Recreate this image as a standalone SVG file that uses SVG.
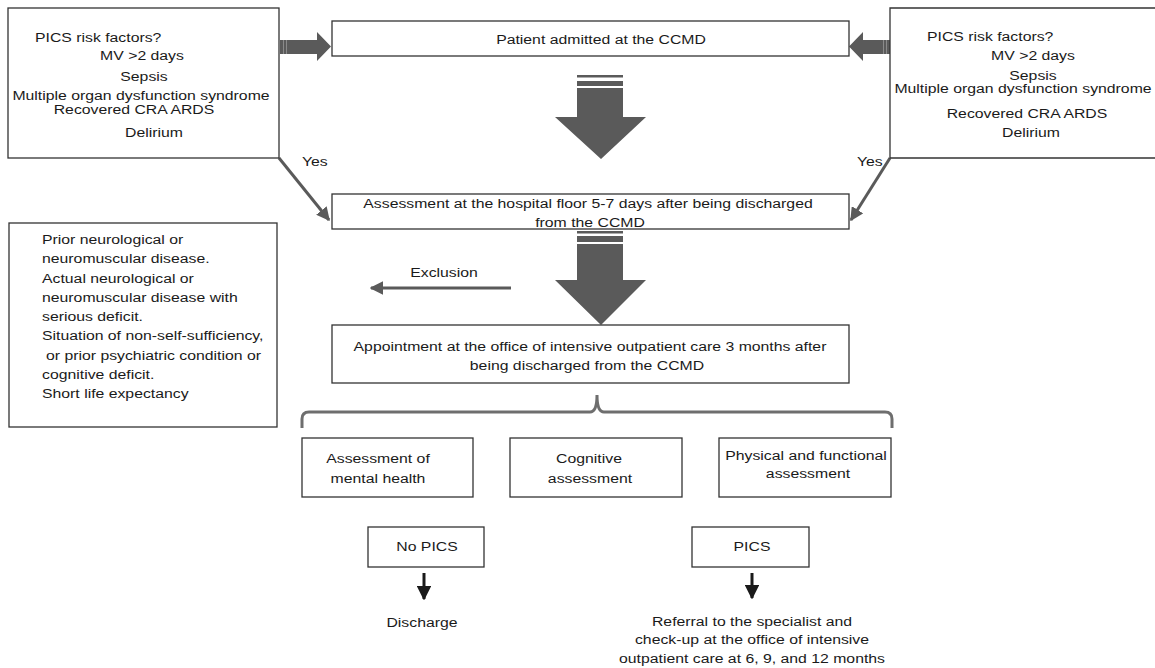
<svg xmlns="http://www.w3.org/2000/svg" width="1155" height="668" viewBox="0 0 1155 668">
<style>
.box{fill:#fff;stroke:#333;stroke-width:1.3}
.t{font-family:"Liberation Sans",Arial,sans-serif;font-size:13.5px;fill:#1a1a1a}
.m{text-anchor:middle}
.big{fill:#5a5a5a}
.thin{stroke:#5a5a5a;stroke-width:3;fill:none}
.blk{stroke:#1a1a1a;stroke-width:3;fill:none}
.stripe{fill:#8a8a8a}
</style>
<defs>
<marker id="gh" viewBox="0 0 10 10" refX="9" refY="5" markerWidth="4.5" markerHeight="4.5" orient="auto" markerUnits="strokeWidth">
<path d="M0,0 L10,5 L0,10 Z" fill="#5a5a5a"/>
</marker>
<marker id="bh" viewBox="0 0 10 10" refX="9" refY="5" markerWidth="4.8" markerHeight="4.8" orient="auto" markerUnits="strokeWidth">
<path d="M0,0 L10,5 L0,10 Z" fill="#1a1a1a"/>
</marker>
</defs>
<rect width="1155" height="668" fill="#fff"/>

<g id="connectors">
<!-- thick side arrows -->
<path class="big" d="M280,40 H317 V32 L331,46.5 L317,61 V54 H280 Z"/>
<rect class="stripe" x="283" y="40" width="1" height="14"/>
<rect class="stripe" x="286" y="40" width="1" height="14"/>
<path class="big" d="M890,40 H863 V32 L849,46.5 L863,61 V54 H890 Z"/>
<rect class="stripe" x="886" y="40" width="1" height="14"/>
<rect class="stripe" x="883" y="40" width="1" height="14"/>
<!-- big down arrow 1 -->
<rect class="big" x="577" y="75" width="46" height="2.5"/>
<rect class="big" x="577" y="81" width="46" height="5"/>
<path class="big" d="M577,88 H623 V117 H646 L601,159 L555,117 H577 Z"/>
<!-- big down arrow 2 -->
<rect class="big" x="577" y="231" width="46" height="2.5"/>
<rect class="big" x="577" y="236" width="46" height="6"/>
<path class="big" d="M577,244 H623 V280 H646 L601,325 L555,280 H577 Z"/>
<!-- yes diagonals -->
<line class="thin" x1="279" y1="158" x2="329" y2="220" marker-end="url(#gh)"/>
<line class="thin" x1="890" y1="158" x2="851" y2="220" marker-end="url(#gh)"/>
<!-- exclusion arrow -->
<line class="thin" x1="511" y1="288" x2="371" y2="288" marker-end="url(#gh)"/>
<!-- brace -->
<path d="M302,428 V419 Q302,412 309,412 H590 Q597,412 597,395 Q597,412 604,412 H885 Q892,412 892,419 V428" fill="none" stroke="#6e6e6e" stroke-width="3"/>
<!-- black arrows -->
<line class="blk" x1="424" y1="573" x2="424" y2="599" marker-end="url(#bh)"/>
<line class="blk" x1="752" y1="573" x2="752" y2="598" marker-end="url(#bh)"/>
</g>

<g id="risk-left">
<rect class="box" x="8" y="8" width="271" height="150"/>
<text class="t" transform="translate(35,42) scale(1.17,1)">PICS risk factors?</text>
<text class="t m" transform="translate(142,60) scale(1.17,1)">MV &gt;2 days</text>
<text class="t m" transform="translate(144,81) scale(1.17,1)">Sepsis</text>
<text class="t m" transform="translate(141,100) scale(1.17,1)">Multiple organ dysfunction syndrome</text>
<text class="t m" transform="translate(134,114) scale(1.17,1)">Recovered CRA ARDS</text>
<text class="t m" transform="translate(154,137) scale(1.17,1)">Delirium</text>
</g>

<g id="risk-right">
<path class="box" d="M1157,8 H890 V158 H1157"/>
<text class="t" transform="translate(927,41) scale(1.17,1)">PICS risk factors?</text>
<text class="t m" transform="translate(1033,60) scale(1.17,1)">MV &gt;2 days</text>
<text class="t m" transform="translate(1033,80) scale(1.17,1)">Sepsis</text>
<text class="t m" transform="translate(1023,93) scale(1.17,1)">Multiple organ dysfunction syndrome</text>
<text class="t m" transform="translate(1027,118) scale(1.17,1)">Recovered CRA ARDS</text>
<text class="t m" transform="translate(1031,137) scale(1.17,1)">Delirium</text>
</g>

<g id="yes-labels">
<text class="t" transform="translate(302,166) scale(1.17,1)">Yes</text>
<text class="t" transform="translate(857,166) scale(1.17,1)">Yes</text>
<text class="t m" transform="translate(444,277) scale(1.17,1)">Exclusion</text>
</g>

<g id="admitted">
<rect class="box" x="332" y="21" width="517" height="35"/>
<text class="t m" transform="translate(601,44) scale(1.17,1)">Patient admitted at the CCMD</text>
</g>

<g id="assessment-floor">
<rect class="box" x="332" y="194" width="517" height="35"/>
<text class="t m" transform="translate(588,208) scale(1.17,1)">Assessment at the hospital floor 5-7 days after being discharged</text>
<text class="t m" transform="translate(590,227) scale(1.17,1)">from the CCMD</text>
</g>

<g id="exclusion-criteria">
<rect class="box" x="9" y="223" width="268" height="204"/>
<text class="t" transform="translate(42,244) scale(1.17,1)">Prior neurological or</text>
<text class="t" transform="translate(42,263.3) scale(1.17,1)">neuromuscular disease.</text>
<text class="t" transform="translate(42,282.5) scale(1.17,1)">Actual neurological or</text>
<text class="t" transform="translate(42,301.8) scale(1.17,1)">neuromuscular disease with</text>
<text class="t" transform="translate(42,321) scale(1.17,1)">serious deficit.</text>
<text class="t" transform="translate(42,340.3) scale(1.17,1)">Situation of non-self-sufficiency,</text>
<text class="t" transform="translate(46,359.5) scale(1.17,1)">or prior psychiatric condition or</text>
<text class="t" transform="translate(42,378.8) scale(1.17,1)">cognitive deficit.</text>
<text class="t" transform="translate(42,398) scale(1.17,1)">Short life expectancy</text>
</g>

<g id="appointment">
<rect class="box" x="332" y="325" width="517" height="58"/>
<text class="t m" transform="translate(590,351) scale(1.17,1)">Appointment at the office of intensive outpatient care 3 months after</text>
<text class="t m" transform="translate(587,370) scale(1.17,1)">being discharged from the CCMD</text>
</g>

<g id="mental">
<rect class="box" x="302" y="438" width="171" height="59"/>
<text class="t m" transform="translate(378,463) scale(1.17,1)">Assessment of</text>
<text class="t m" transform="translate(378,483) scale(1.17,1)">mental health</text>
</g>

<g id="cognitive">
<rect class="box" x="510" y="438" width="172" height="59"/>
<text class="t m" transform="translate(589,463) scale(1.17,1)">Cognitive</text>
<text class="t m" transform="translate(590,483) scale(1.17,1)">assessment</text>
</g>

<g id="physical">
<rect class="box" x="719" y="438" width="172" height="59"/>
<text class="t m" transform="translate(806,460) scale(1.17,1)">Physical and functional</text>
<text class="t m" transform="translate(808,478) scale(1.17,1)">assessment</text>
</g>

<g id="no-pics">
<rect class="box" x="368" y="527" width="116" height="40"/>
<text class="t m" transform="translate(427,551) scale(1.17,1)">No PICS</text>
</g>

<g id="pics">
<rect class="box" x="692" y="527" width="117" height="40"/>
<text class="t m" transform="translate(752,551) scale(1.17,1)">PICS</text>
</g>

<g id="discharge">
<text class="t m" transform="translate(422,627) scale(1.17,1)">Discharge</text>
</g>

<g id="referral">
<text class="t m" transform="translate(752,626) scale(1.17,1)">Referral to the specialist and</text>
<text class="t m" transform="translate(752,644) scale(1.17,1)">check-up at the office of intensive</text>
<text class="t m" transform="translate(752,663) scale(1.17,1)">outpatient care at 6, 9, and 12 months</text>
</g>
</svg>
